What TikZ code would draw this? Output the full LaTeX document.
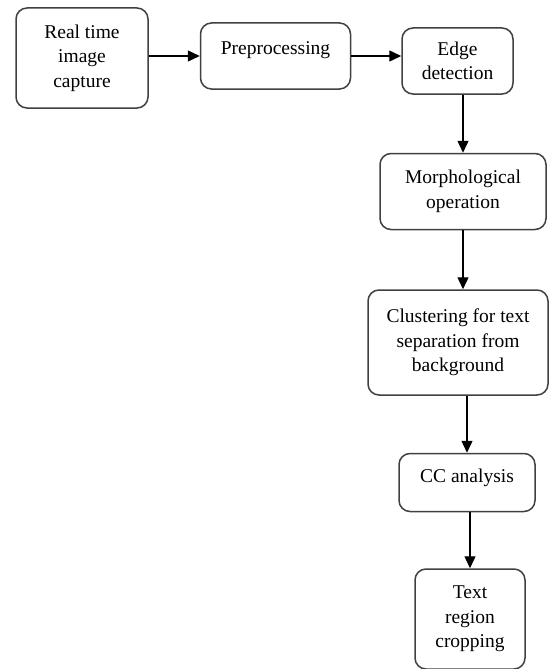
\documentclass[tikz,border=0pt]{standalone}
\usepackage{fontspec}
\setmainfont{Liberation Serif}
\usepackage{tikz}
\usetikzlibrary{positioning,arrows.meta}

\definecolor{boxline}{HTML}{404040}

\begin{document}
\begin{tikzpicture}[
    x=1pt, y=-1pt,
    every node/.style={font=\fontsize{19.5}{24.5}\selectfont},
    stage/.style={draw=boxline, line width=1.5pt, rounded corners=11pt,
                  align=center, inner sep=2pt, fill=white},
    arrow/.style={-{Triangle[length=12pt, width=11pt]}, line width=1.4pt, black},
]
\useasboundingbox (0,0) rectangle (550,669);

% Top row
\node[stage, minimum width=132pt, minimum height=100pt] (cap) at (82,58)
    {Real time\\image\\capture};
\node[stage, minimum width=150pt, minimum height=66pt, text depth=16pt,
      right=51pt of cap, yshift=2pt] (prep)
    {Preprocessing};
\node[stage, minimum width=111pt, minimum height=66pt,
      right=50pt of prep, yshift=-5pt] (edge)
    {Edge\\detection};

% Column going down
\node[stage, minimum width=166pt, minimum height=76pt,
      below=58pt of edge, xshift=5.5pt] (morph)
    {Morphological\\operation};
\node[stage, minimum width=180pt, minimum height=105pt,
      below=59pt of morph, xshift=-5pt] (clust)
    {Clustering for text\\separation from\\background};
\node[stage, minimum width=136pt, minimum height=58pt, text depth=14pt,
      below=57pt of clust, xshift=9pt] (cc)
    {CC analysis};
\node[stage, minimum width=110pt, minimum height=100pt,
      below=56pt of cc, xshift=3pt] (crop)
    {Text\\region\\cropping};

% Arrows
\draw[arrow] (cap.east |- prep.west) -- (prep.west);
\draw[arrow] (prep.east) -- (prep.east -| edge.west);
\draw[arrow] (edge.south -| morph.north) -- (morph.north);
\draw[arrow] (morph.south) -- (morph.south |- clust.north);
\draw[arrow] (clust.south -| cc.north) -- (cc.north);
\draw[arrow] (cc.south -| crop.north) -- (crop.north);
\end{tikzpicture}
\end{document}
